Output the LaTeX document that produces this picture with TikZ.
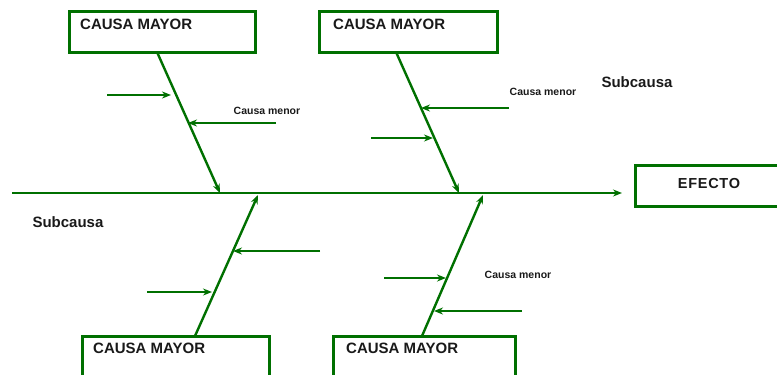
\documentclass[tikz,border=0pt]{standalone}
\usepackage{fontspec}
\setmainfont{Liberation Sans}
\usetikzlibrary{arrows.meta,calc}
\definecolor{fg}{RGB}{0,112,0}
\definecolor{txt}{RGB}{25,25,25}
\begin{document}
\begin{tikzpicture}[x=1pt,y=-1pt,
  mbox/.style={draw=fg,line width=3pt,minimum height=41pt,inner sep=0pt},
  bigtxt/.style={anchor=west,inner sep=0pt,text=txt,font=\fontsize{15}{18}\selectfont\bfseries},
  subtxt/.style={inner sep=0pt,text=txt,font=\fontsize{15}{18}\selectfont\bfseries},
  smalltxt/.style={inner sep=0pt,text=txt,font=\fontsize{10.5}{12}\selectfont\bfseries},
  arr/.style={draw=fg,line width=2.4pt,-{Stealth[length=9pt,width=7pt]}}]
\useasboundingbox (0,0) rectangle (777,375);
% boxes
\node[mbox,minimum width=186pt] (tl) at (162.5,31.5) {};
\node[mbox,minimum width=178pt] (tr) at (408.5,31.5) {};
\node[mbox,minimum width=187pt] (bl) at (176,357) {};
\node[mbox,minimum width=182pt] (br) at (424.5,357) {};
\node[mbox,minimum width=200pt,minimum height=41pt] (ef) at (735,186) {};
% box labels
\node[bigtxt] (tlt) at (80,24) {CAUSA MAYOR};
\node[bigtxt] (trt) at (333,24) {CAUSA MAYOR};
\node[bigtxt] (blt) at (93,348) {CAUSA MAYOR};
\node[bigtxt] (brt) at (346,348) {CAUSA MAYOR};
\node[subtxt,font=\fontsize{14.5}{18}\selectfont\bfseries\addfontfeature{LetterSpace=5}] (eft) at (709,184) {EFECTO};
% spine
\coordinate (s0) at (12,193);
\coordinate (s1) at (622,193);
\draw[arr] (s0) -- (s1);
% bones
\coordinate (a0) at (157,52);  \coordinate (a1) at (220,193);
\coordinate (b0) at (396,52);  \coordinate (b1) at (459,193);
\coordinate (c0) at (195,336); \coordinate (c1) at (258,195);
\coordinate (d0) at (422,336); \coordinate (d1) at (483,195);
\draw[arr] (a0) -- (a1);
\draw[arr] (b0) -- (b1);
\draw[arr] (c0) -- (c1);
\draw[arr] (d0) -- (d1);
% minor causes
\coordinate (a2s) at (107,95);  \coordinate (a2e) at (171,95);
\coordinate (a3s) at (276,123); \coordinate (a3e) at (188,123);
\coordinate (b2s) at (509,108); \coordinate (b2e) at (421,108);
\coordinate (b3s) at (371,138); \coordinate (b3e) at (433,138);
\coordinate (c2s) at (320,251); \coordinate (c2e) at (233,251);
\coordinate (c3s) at (147,292); \coordinate (c3e) at (212,292);
\coordinate (d2s) at (384,278); \coordinate (d2e) at (446,278);
\coordinate (d3s) at (522,311); \coordinate (d3e) at (434,311);
\draw[arr] (a2s) -- (a2e);
\draw[arr] (a3s) -- (a3e);
\draw[arr] (b2s) -- (b2e);
\draw[arr] (b3s) -- (b3e);
\draw[arr] (c2s) -- (c2e);
\draw[arr] (c3s) -- (c3e);
\draw[arr] (d2s) -- (d2e);
\draw[arr] (d3s) -- (d3e);
% labels
\node[smalltxt] (m1) at (267,111) {Causa menor};
\node[smalltxt] (m2) at (543,92) {Causa menor};
\node[smalltxt] (m3) at (518,275) {Causa menor};
\node[subtxt] (sc1) at (637,82) {Subcausa};
\node[subtxt] (sc2) at (68,222) {Subcausa};
\end{tikzpicture}
\end{document}
